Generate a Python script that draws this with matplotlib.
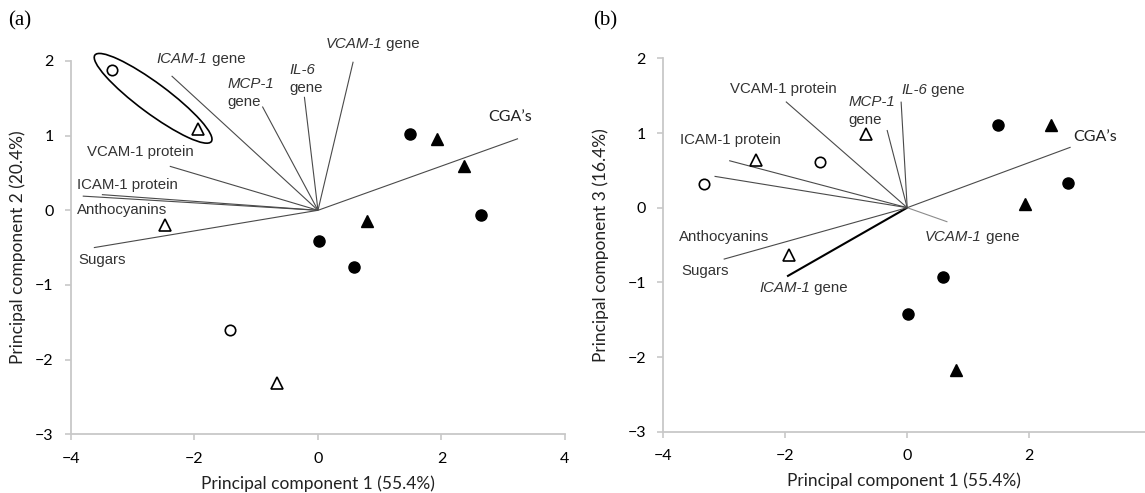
"""PCA biplots of the eight samples: PC1 vs PC2 (a) and PC1 vs PC3 (b)."""

import matplotlib

matplotlib.use("Agg")

import matplotlib.pyplot as plt
import matplotlib.transforms as mtransforms
from matplotlib.patches import Ellipse

# sample scores, grouped by marker
PC1_OPEN_CIRCLE = [-3.33, -1.43]
PC2_OPEN_CIRCLE = [1.88, -1.60]
PC3_OPEN_CIRCLE = [0.32, 0.61]

PC1_OPEN_TRIANGLE = [-1.94, -2.48, -0.67]
PC2_OPEN_TRIANGLE = [1.09, -0.20, -2.31]
PC3_OPEN_TRIANGLE = [-0.64, 0.64, 0.98]

PC1_FILLED_CIRCLE = [1.49, 2.64, 0.01, 0.58]
PC2_FILLED_CIRCLE = [1.02, -0.06, -0.41, -0.76]
PC3_FILLED_CIRCLE = [1.11, 0.33, -1.43, -0.93]

PC1_FILLED_TRIANGLE = [1.93, 2.36, 0.80]
PC2_FILLED_TRIANGLE = [0.96, 0.59, -0.14]
PC3_FILLED_TRIANGLE = [0.05, 1.11, -2.18]

# variable loadings (line end points)
VARIABLES = ["VCAM-1 gene", "IL-6 gene", "MCP-1 gene", "ICAM-1 gene", "VCAM-1 protein",
             "ICAM-1 protein", "Anthocyanins", "Sugars", "CGA's"]
LOAD_A_X = [0.57, -0.22, -0.90, -2.37, -2.40, -3.50, -3.81, -3.63, 3.24]
LOAD_A_Y = [1.99, 1.52, 1.39, 1.80, 0.59, 0.21, 0.19, -0.50, 0.96]
LOAD_B_X = [0.66, -0.10, -0.33, -1.97, -1.99, -2.92, -3.16, -3.01, 2.68]
LOAD_B_Y = [-0.19, 1.42, 1.04, -0.92, 1.42, 0.63, 0.42, -0.69, 0.81]

# labels: (x, y, [(text, italic), ...])
LABELS_A = [
    (-2.61, 2.03, [("ICAM-1", True), (" gene", False)]),
    (-1.46, 1.69, [("MCP-1", True)]),
    (-1.46, 1.45, [("gene", False)]),
    (-0.46, 1.88, [("IL-6", True)]),
    (-0.46, 1.64, [("gene", False)]),
    (0.12, 2.23, [("VCAM-1", True), (" gene", False)]),
    (-3.74, 0.78, [("VCAM-1 protein", False)]),
    (-3.90, 0.34, [("ICAM-1 protein", False)]),
    (-3.90, 0.00, [("Anthocyanins", False)]),
    (-3.88, -0.66, [("Sugars", False)]),
]
LABELS_B = [
    (-2.91, 1.59, [("VCAM-1 protein", False)]),
    (-0.10, 1.58, [("IL-6", True), (" gene", False)]),
    (-0.96, 1.41, [("MCP-1", True)]),
    (-0.96, 1.17, [("gene", False)]),
    (-3.73, 0.90, [("ICAM-1 protein", False)]),
    (-3.74, -0.39, [("Anthocyanins", False)]),
    (0.29, -0.39, [("VCAM-1", True), (" gene", False)]),
    (-3.71, -0.85, [("Sugars", False)]),
    (-2.43, -1.08, [("ICAM-1", True), (" gene", False)]),
]
CGA_LABEL_A = (2.76, 1.25)
CGA_LABEL_B = (2.73, 0.95)

X_TICKS_A = [-4, -2, 0, 2, 4]
X_TICKS_B = [-4, -2, 0, 2]
Y_TICKS = [-3, -2, -1, 0, 1, 2]

AXIS_FONT = "Lato"
LABEL_FONT = "Liberation Sans"
SPINE_COLOR = "#c8c8c8"
LINE_COLOR = "#4a4a4a"
TEXT_COLOR = "#333333"


def _style_axes(ax, xlim, xticks, xlabel, ylabel, ylabel_x):
    ax.set_xlim(*xlim)
    ax.set_ylim(-3, 2)
    ax.set_xticks(xticks)
    ax.set_yticks(Y_TICKS)
    for side in ("top", "right"):
        ax.spines[side].set_visible(False)
    for side in ("left", "bottom"):
        ax.spines[side].set_color(SPINE_COLOR)
        ax.spines[side].set_linewidth(1.3)
    ax.tick_params(direction="out", length=4.5, width=1.2, color=SPINE_COLOR,
                   labelsize=11.5, pad=8)
    for lab in ax.get_xticklabels() + ax.get_yticklabels():
        lab.set_family(AXIS_FONT)
    ax.set_xlabel(xlabel, family=AXIS_FONT, fontsize=12.5, labelpad=7, color="#222222")
    ax.set_ylabel(ylabel, family=AXIS_FONT, fontsize=12.5, color="#222222")
    ax.yaxis.set_label_coords(ylabel_x, 0.5)


def _draw_scores(ax, pc_y):
    ax.plot(PC1_OPEN_CIRCLE, pc_y[0], "o", ms=7.5, mfc="white", mec="black", mew=1.2, ls="none")
    ax.plot(PC1_OPEN_TRIANGLE, pc_y[1], "^", ms=8, mfc="white", mec="black", mew=1.2, ls="none")
    ax.plot(PC1_FILLED_CIRCLE, pc_y[2], "o", ms=8, color="black", ls="none")
    ax.plot(PC1_FILLED_TRIANGLE, pc_y[3], "^", ms=8.5, color="black", ls="none")


def _draw_loadings(ax, xs, ys, styles=None):
    styles = styles or {}
    for name, x, y in zip(VARIABLES, xs, ys):
        color, lw = styles.get(name, (LINE_COLOR, 0.8))
        ax.plot([0, x], [0, y], color=color, linewidth=lw, solid_capstyle="butt")


def _draw_labels(ax, labels):
    for x, y, parts in labels:
        prev = None
        for text, italic in parts:
            style = "italic" if italic else "normal"
            if prev is None:
                prev = ax.text(x, y, text, family=LABEL_FONT, fontsize=10.8, style=style,
                               color=TEXT_COLOR, ha="left", va="center")
            else:
                prev = ax.annotate(text, xy=(1, 0), xycoords=prev, family=LABEL_FONT,
                                   fontsize=10.8, style=style, color=TEXT_COLOR,
                                   ha="left", va="bottom")


fig = plt.figure(figsize=(11.45, 4.93), dpi=100)
ax_a = fig.add_axes([0.0620, 0.1191, 0.4314, 0.7572])
ax_b = fig.add_axes([0.5793, 0.1243, 0.4207, 0.7574])

# (a) PC1 vs PC2
_style_axes(ax_a, (-4, 4), X_TICKS_A, "Principal component 1 (55.4%)",
            "Principal component 2 (20.4%)", -0.092)
_draw_loadings(ax_a, LOAD_A_X, LOAD_A_Y)
_draw_scores(ax_a, [PC2_OPEN_CIRCLE, PC2_OPEN_TRIANGLE, PC2_FILLED_CIRCLE, PC2_FILLED_TRIANGLE])
_draw_labels(ax_a, LABELS_A)
ax_a.text(*CGA_LABEL_A, "CGA\u2019s", family=AXIS_FONT, fontsize=11.5, color="#222222",
          ha="left", va="center")
ring = Ellipse((0, 0), width=1.45, height=0.30, angle=-36.6, fill=False,
               edgecolor="black", linewidth=1.2, clip_on=False,
               transform=fig.dpi_scale_trans
               + mtransforms.ScaledTranslation(-2.67, 1.50, ax_a.transData))
ax_a.add_patch(ring)

# (b) PC1 vs PC3
_style_axes(ax_b, (-4, 3.9), X_TICKS_B, "Principal component 1 (55.4%)",
            "Principal component 3 (16.4%)", -0.113)
_draw_loadings(ax_b, LOAD_B_X, LOAD_B_Y,
               styles={"ICAM-1 gene": ("black", 1.5), "VCAM-1 gene": ("#8c8c8c", 0.8)})
_draw_scores(ax_b, [PC3_OPEN_CIRCLE, PC3_OPEN_TRIANGLE, PC3_FILLED_CIRCLE, PC3_FILLED_TRIANGLE])
_draw_labels(ax_b, LABELS_B)
ax_b.text(*CGA_LABEL_B, "CGA\u2019s", family=AXIS_FONT, fontsize=11.5, color="#222222",
          ha="left", va="center")

fig.text(8 / 1145, 1 - 11 / 493, "(a)", family="Liberation Serif", fontsize=15, va="top")
fig.text(593 / 1145, 1 - 11 / 493, "(b)", family="Liberation Serif", fontsize=15, va="top")

fig.savefig("out.png", dpi=100)
